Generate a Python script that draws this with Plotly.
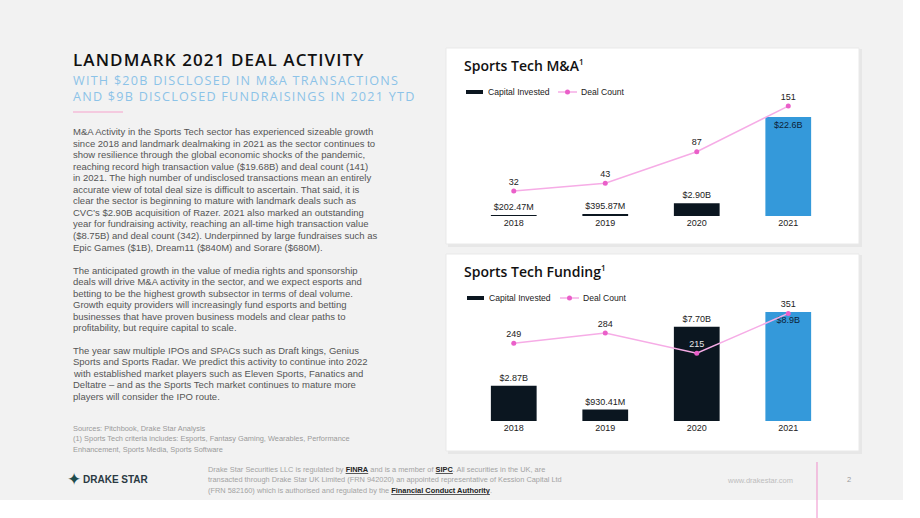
import plotly.graph_objects as go

# ---------------- data ----------------
years = ["2018", "2019", "2020", "2021"]
ma_capital = [0.20247, 0.39587, 2.90, 22.6]          # $B
ma_capital_labels = ["$202.47M", "$395.87M", "$2.90B", "$22.6B"]
ma_deals = [32, 43, 87, 151]

fund_capital = [2.87, 0.93041, 7.70, 8.9]           # $B
fund_capital_labels = ["$2.87B", "$930.41M", "$7.70B", "$8.9B"]
fund_deals = [249, 284, 215, 351]

W, H = 920, 518
def X(px): return px / W
def Y(py): return 1 - py / H

DARK = "#0b1620"
BLUE = "#3499da"
PINK_LINE = "#f6ace6"
PINK_MK = "#ea5fc9"

fig = go.Figure()

# M&A chart
fig.add_trace(go.Bar(
    x=years, y=ma_capital, xaxis="x", yaxis="y",
    marker=dict(color=[DARK, DARK, DARK, BLUE], line=dict(width=0)),
    text=ma_capital_labels, textposition=["outside", "outside", "outside", "inside"],
    insidetextanchor="end", constraintext="none", cliponaxis=False,
    textfont=dict(family="Liberation Sans", size=9, color="#222222"),
    insidetextfont=dict(family="Liberation Sans", size=9, color="#0d2236"),
    showlegend=False, hoverinfo="skip"))
fig.add_trace(go.Scatter(
    x=years, y=ma_deals, xaxis="x", yaxis="y2", mode="lines+markers+text",
    line=dict(color=PINK_LINE, width=1.5), marker=dict(color=PINK_MK, size=5),
    text=[str(v) for v in ma_deals], textposition="top center", cliponaxis=False,
    textfont=dict(family="Liberation Sans", size=9, color="#222222"),
    showlegend=False, hoverinfo="skip"))

# Funding chart
fig.add_trace(go.Bar(
    x=years, y=fund_capital, xaxis="x2", yaxis="y3",
    marker=dict(color=[DARK, DARK, DARK, BLUE], line=dict(width=0)),
    text=fund_capital_labels, textposition=["outside", "outside", "outside", "inside"],
    insidetextanchor="end", constraintext="none", cliponaxis=False,
    textfont=dict(family="Liberation Sans", size=9, color="#222222"),
    insidetextfont=dict(family="Liberation Sans", size=9, color="#0d2236"),
    showlegend=False, hoverinfo="skip"))
fig.add_trace(go.Scatter(
    x=years, y=fund_deals, xaxis="x2", yaxis="y4", mode="lines+markers+text",
    line=dict(color=PINK_LINE, width=1.5), marker=dict(color=PINK_MK, size=5),
    text=[str(v) for v in fund_deals], textposition="top center", cliponaxis=False,
    textfont=dict(family="Liberation Sans", size=9,
                  color=["#222222", "#222222", "#e6e6e6", "#222222"]),
    showlegend=False, hoverinfo="skip"))

xdom = [X(468), X(834)]
axis_x = dict(domain=xdom, type="category", showgrid=False, showline=False, zeroline=False,
              ticks="", tickfont=dict(family="Liberation Sans", size=9, color="#222222"))
hidden = dict(visible=False, showgrid=False, zeroline=False)

fig.update_layout(
    width=W, height=H, margin=dict(l=0, r=0, t=0, b=0),
    paper_bgcolor="white", plot_bgcolor="rgba(0,0,0,0)",
    bargap=0.5,
    xaxis=dict(axis_x, anchor="y"),
    yaxis=dict(hidden, domain=[Y(216), Y(100)], range=[0, 26.48]),
    yaxis2=dict(hidden, overlaying="y", range=[-2.9, 159.5]),
    xaxis2=dict(axis_x, anchor="y3"),
    yaxis3=dict(hidden, domain=[Y(421), Y(305)], range=[0, 9.47]),
    yaxis4=dict(hidden, overlaying="y3", range=[-16, 379.7]),
)

shapes = []
# slide background
shapes.append(dict(type="rect", xref="paper", yref="paper", x0=X(0), x1=X(903), y0=Y(500), y1=Y(0),
                   fillcolor="#f2f2f2", line=dict(width=0), layer="below"))
# panels with shadow
for top, bot in [(48, 244), (254, 451)]:
    shapes.append(dict(type="rect", xref="paper", yref="paper", x0=X(448), x1=X(862), y0=Y(bot + 3), y1=Y(top + 1),
                       fillcolor="#e7e7e7", line=dict(width=0), layer="below"))
    shapes.append(dict(type="rect", xref="paper", yref="paper", x0=X(446), x1=X(859), y0=Y(bot), y1=Y(top),
                       fillcolor="white", line=dict(width=1, color="#e9e9e9"), layer="below"))
# pink rule under subtitle
shapes.append(dict(type="line", xref="paper", yref="paper", x0=X(73), x1=X(123), y0=Y(112), y1=Y(112),
                   line=dict(color="#f4bcd9", width=1.5)))
# legends
for ly, off in [(92, 0), (298, 1)]:
    shapes.append(dict(type="line", xref="paper", yref="paper", x0=X(466 + off), x1=X(483 + off), y0=Y(ly), y1=Y(ly),
                       line=dict(color=DARK, width=4)))
    shapes.append(dict(type="line", xref="paper", yref="paper", x0=X(558 + 2 * off), x1=X(577 + 2 * off), y0=Y(ly), y1=Y(ly),
                       line=dict(color=PINK_LINE, width=1.5)))
    cx = 567.5 + 2 * off
    shapes.append(dict(type="circle", xref="paper", yref="paper", x0=X(cx - 2.5), x1=X(cx + 2.5), y0=Y(ly + 2.5), y1=Y(ly - 2.5),
                       fillcolor=PINK_MK, line=dict(width=0)))
# footer pink vertical line
shapes.append(dict(type="line", xref="paper", yref="paper", x0=X(817), x1=X(817), y0=Y(518), y1=Y(462),
                   line=dict(color="#ef8fcb", width=1)))

ann = []
def T(x, y, text, size, color, family="Liberation Sans", weight=None, anchor="left"):
    f = dict(family=family, size=size, color=color)
    if weight:
        f["weight"] = weight
    ann.append(dict(xref="paper", yref="paper", x=X(x), y=Y(y), text=text, showarrow=False,
                    xanchor=anchor, yanchor="middle", font=f, align="left"))

T(71, 60, '<span style="letter-spacing:1.1px">LANDMARK 2021 DEAL ACTIVITY</span>', 17, "#111111", "Open Sans", 600)
T(71, 88, '<span style="letter-spacing:1.25px">WITH $20B DISCLOSED IN M&amp;A TRANSACTIONS<br>'
          'AND $9B DISCLOSED FUNDRAISINGS IN 2021 YTD</span>', 12.6, "#8cc3e8", "Open Sans", 400)

para1 = [
    "M&A Activity in the Sports Tech sector has experienced sizeable growth",
    "since 2018 and landmark dealmaking in 2021 as the sector continues to",
    "show resilience through the global economic shocks of the pandemic,",
    "reaching record high transaction value ($19.68B) and deal count (141)",
    "in 2021. The high number of undisclosed transactions mean an entirely",
    "accurate view of total deal size is difficult to ascertain. That said, it is",
    "clear the sector is beginning to mature with landmark deals such as",
    "CVC’s $2.90B acquisition of Razer. 2021 also marked an outstanding",
    "year for fundraising activity, reaching an all-time high transaction value",
    "($8.75B) and deal count (342). Underpinned by large fundraises such as",
    "Epic Games ($1B), Dream11 ($840M) and Sorare ($680M).",
]
para2 = [
    "The anticipated growth in the value of media rights and sponsorship",
    "deals will drive M&A activity in the sector, and we expect esports and",
    "betting to be the highest growth subsector in terms of deal volume.",
    "Growth equity providers will increasingly fund esports and betting",
    "businesses that have proven business models and clear paths to",
    "profitability, but require capital to scale.",
]
para3 = [
    "The year saw multiple IPOs and SPACs such as Draft kings, Genius",
    "Sports and Sports Radar. We predict this activity to continue into 2022",
    "with established market players such as Eleven Sports, Fanatics and",
    "Deltatre – and as the Sports Tech market continues to mature more",
    "players will consider the IPO route.",
]
for start, lines in [(131.5, para1), (270, para2), (350, para3)]:
    for i, line in enumerate(lines):
        T(71, start + i * 11.55, line.replace("&", "&amp;"), 9.5, "#555555")

src = [
    "Sources: Pitchbook, Drake Star Analysis",
    "(1) Sports Tech criteria includes: Esports, Fantasy Gaming, Wearables, Performance",
    "Enhancement, Sports Media, Sports Software",
]
for i, line in enumerate(src):
    T(71, 428.3 + i * 10.4, line, 7.4, "#9a9a9a")

# chart titles
SUP = '<sup><span style="font-size:8px">1</span></sup>'
T(462, 66, "Sports Tech M&amp;A" + SUP, 14, "#111111", "Open Sans", 600)
T(462, 271, "Sports Tech Funding" + SUP, 14, "#111111", "Open Sans", 600)
# legend texts
for ly, off in [(92, 0), (298, 1)]:
    T(486 + off, ly, "Capital Invested", 8.6, "#222222")
    T(579 + 2 * off, ly, "Deal Count", 8.6, "#222222")

# footer
U = lambda s: '<b><span style="text-decoration:underline;fill:#222222">' + s + '</span></b>'
foot = [
    "Drake Star Securities LLC is regulated by " + U("FINRA") + " and is a member of " + U("SIPC") + ". All securities in the UK, are",
    "transacted through Drake Star UK Limited (FRN 942020) an appointed representative of Kession Capital Ltd",
    "(FRN 582160) which is authorised and regulated by the " + U("Financial Conduct Authority") + ".",
]
for i, line in enumerate(foot):
    T(206, 469 + i * 10.8, line, 7.4, "#a3a3a3")

T(725, 480.5, "www.drakestar.com", 7.5, "#bdbdbd")
T(845, 479, "2", 7.5, "#9a9a9a")
# logo
T(74, 479, "✦", 17, "#1f4d4d", "DejaVu Sans", None, "center")
T(81, 479.5, "DRAKE STAR", 10, "#2b3a44", "Liberation Sans", 700)

fig.update_layout(shapes=shapes, annotations=ann)
fig.write_html("out.html")
